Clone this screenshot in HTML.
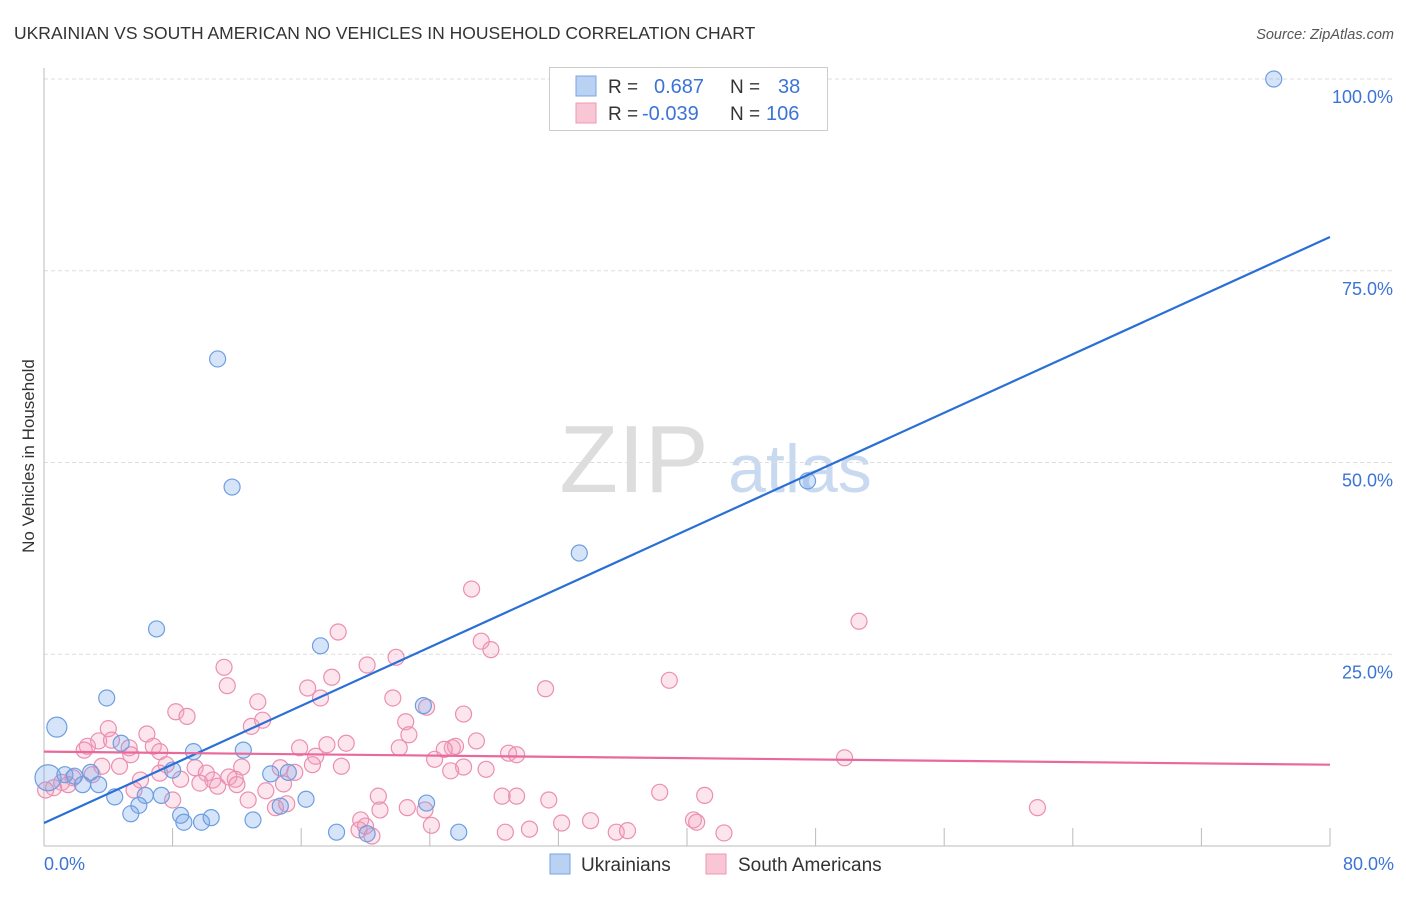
<!DOCTYPE html>
<html><head><meta charset="utf-8"><style>
body{margin:0;background:#fff;font-family:"Liberation Sans",sans-serif;}
svg text{font-family:"Liberation Sans",sans-serif;}
</style></head><body>
<svg id="chart" width="1406" height="892">
<text x="14" y="39" font-size="17.5" fill="#333">UKRAINIAN VS SOUTH AMERICAN NO VEHICLES IN HOUSEHOLD CORRELATION CHART</text>
<text x="1394" y="39" font-size="14.5" fill="#555" text-anchor="end" font-style="italic">Source: ZipAtlas.com</text>
<text transform="translate(34,456) rotate(-90)" font-size="17" fill="#333" text-anchor="middle">No Vehicles in Household</text>
<g><text x="634" y="492" font-size="96" fill="#ddd" font-family="Liberation Serif" text-anchor="middle">ZIP</text><text x="800" y="492" font-size="68" fill="#c9d9f0" text-anchor="middle">atlas</text></g>
<g id="grid"></g><g id="axes"></g><g id="pts"></g><g id="lines"></g>
<g>
<rect x="549.5" y="67.5" width="278" height="63" fill="#fff" stroke="#ccc"/>
<rect x="576" y="76" width="20" height="20" fill="#b9d1f3" stroke="#7aa5e0"/>
<rect x="576" y="103" width="20" height="20" fill="#f9c6d6" stroke="#eb9ab4"/>
<text x="608" y="93" font-size="19" fill="#333">R =</text><text x="654" y="93" font-size="20" fill="#3b74d6">0.687</text>
<text x="730" y="93" font-size="19" fill="#333">N =</text><text x="778" y="93" font-size="20" fill="#3b74d6">38</text>
<text x="608" y="120" font-size="19" fill="#333">R =</text><text x="642" y="120" font-size="20" fill="#3b74d6">-0.039</text>
<text x="730" y="120" font-size="19" fill="#333">N =</text><text x="766" y="120" font-size="20" fill="#3b74d6">106</text>
</g>
<g>
<rect x="550" y="854" width="20" height="20" fill="#b9d1f3" stroke="#7aa5e0"/><text x="581" y="871" font-size="19" fill="#333">Ukrainians</text>
<rect x="706" y="854" width="20" height="20" fill="#f9c6d6" stroke="#eb9ab4"/><text x="738" y="871" font-size="19" fill="#333">South Americans</text>
</g>
</svg>
<script>
const blueX=[76.5,10.8,11.7,47.5,33.3,7.0,17.2,3.9,0.8,23.6,4.8,9.3,12.4,0.25,1.3,1.9,2.9,2.4,3.4,8.0,14.1,15.2,4.4,6.3,7.3,16.3,5.9,5.4,8.5,8.7,9.8,10.4,13.0,14.7,23.8,18.2,20.1,25.8];
const blueY=[100,63.5,46.8,47.6,38.2,28.3,26.1,19.3,15.5,18.3,13.4,12.3,12.5,8.9,9.3,9.1,9.6,8.0,8.0,9.9,9.4,9.6,6.4,6.6,6.6,6.1,5.3,4.2,4.0,3.1,3.1,3.7,3.4,5.2,5.6,1.8,1.6,1.8];
const pinkX=[26.6,18.3,27.2,27.8,50.7,38.9,11.2,16.4,11.4,31.2,21.9,20.1,17.9,13.3,17.2,8.2,8.9,21.7,23.8,26.1,12.9,13.6,22.5,22.7,4.0,6.4,3.4,2.7,2.5,5.3,6.8,7.2,5.4,4.2,15.9,18.8,17.6,22.1,26.9,25.4,25.6,28.9,29.4,24.3,24.9,16.9,16.7,18.5,14.7,15.6,12.3,7.6,7.2,9.4,10.1,10.5,8.5,11.9,11.5,4.7,3.6,3.0,1.8,1.1,0.6,0.1,6.0,8.0,10.8,12.0,12.7,13.8,14.9,26.1,25.3,27.5,49.8,20.8,28.5,29.4,31.4,38.3,41.1,14.4,15.1,20.9,22.6,23.7,19.7,32.2,34.0,24.1,28.7,30.2,35.6,36.3,40.4,40.6,42.3,61.8,19.6,20.4,20.0,9.7,1.5,5.6];
const pinkY=[33.5,27.9,26.7,25.6,29.3,21.6,23.3,20.6,20.9,20.5,24.6,23.6,22.0,18.8,19.3,17.5,16.9,19.3,18.1,17.2,15.6,16.4,16.2,14.5,15.3,14.6,13.7,13.0,12.5,12.8,13.0,12.3,11.9,13.8,12.8,13.4,13.2,12.8,13.7,12.8,13.0,12.1,11.9,11.3,12.6,11.7,10.6,10.4,10.2,9.6,10.3,10.6,9.5,10.2,9.5,8.6,8.7,8.7,9.0,10.4,10.4,9.3,8.9,8.3,7.6,7.3,8.6,6.0,7.8,8.0,6.0,7.2,8.1,10.3,9.8,10.0,11.5,6.5,6.5,6.5,6.0,7.0,6.6,5.0,5.5,4.7,5.0,4.7,3.4,3.0,3.3,2.7,1.8,2.2,1.8,2.0,3.4,3.1,1.7,5.0,2.1,1.3,2.6,8.2,8.0,7.3];
const blueTrend=[3.0,79.4];
const pinkTrend=[12.3,10.6];
const yTicks=[25,50,75,100];
const xTickLabels=["0.0%","80.0%"];
const NS="http://www.w3.org/2000/svg";
const X=v=>44+v/80*1286, Y=v=>846-v/100*767;
function mk(p,t,a){const e=document.createElementNS(NS,t);for(const k in a)e.setAttribute(k,a[k]);p.appendChild(e);return e;}
const grid=document.getElementById('grid'),axes=document.getElementById('axes'),pts=document.getElementById('pts'),lines=document.getElementById('lines');
yTicks.forEach(t=>{
 const l=mk(grid,'line',{x1:44,x2:1394,y1:Y(t),y2:Y(t),stroke:'#ddd','stroke-dasharray':'4,3'});
 
 
 const tx=mk(axes,'text',{x:1393,y:Y(t)+24,'font-size':18,fill:'#3b74d6','text-anchor':'end'});
 tx.textContent=t.toFixed(1)+'%';
 
 
});
const ax=mk(axes,'line',{x1:44,x2:44,y1:68,y2:846,stroke:'#bbb'});


const bx=mk(axes,'line',{x1:44,x2:1330,y1:846,y2:846,stroke:'#bbb'});


for(let i=1;i<=10;i++){const t=mk(axes,'line',{x1:X(i*8),x2:X(i*8),y1:828,y2:846,stroke:'#bbb'});
 
 }
[[0,'start',44],[80,'end',1394]].forEach((d,i)=>{const t=mk(axes,'text',{x:d[2],y:870,'font-size':18,fill:'#3b74d6','text-anchor':d[1]});t.textContent=xTickLabels[i];
 
 });
pinkX.forEach((x,i)=>{const c=mk(pts,'circle',{cx:X(x),cy:Y(pinkY[i]),r:8,fill:'rgba(243,160,190,0.28)',stroke:'#eb8fb0','stroke-width':1.2});
 
 });
blueX.forEach((x,i)=>{const r=i==13?13:(i==8?10:8);const c=mk(pts,'circle',{cx:X(x),cy:Y(blueY[i]),r:r,fill:'rgba(120,165,235,0.3)',stroke:'#6d9ee0','stroke-width':1.2});
 
 });
const bl=mk(lines,'line',{x1:X(0),y1:Y(blueTrend[0]),x2:X(80),y2:Y(blueTrend[1]),stroke:'#2a6fd6','stroke-width':2.2});


const pl=mk(lines,'line',{x1:X(0),y1:Y(pinkTrend[0]),x2:X(80),y2:Y(pinkTrend[1]),stroke:'#e8699a','stroke-width':2.2});


</script>
</body></html>
